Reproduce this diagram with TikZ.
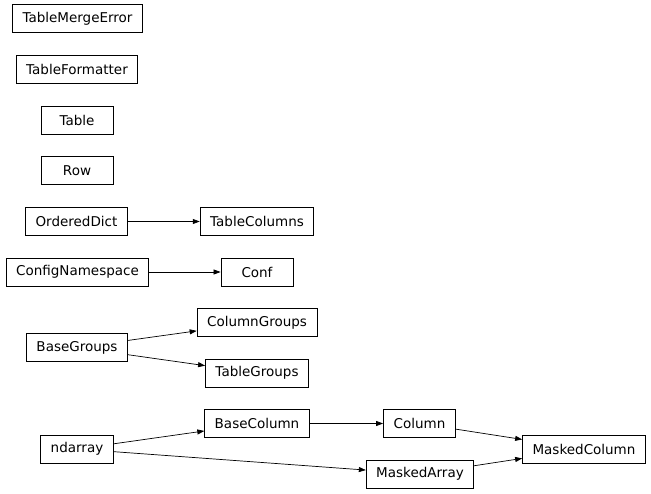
\documentclass[tikz,border=0pt]{standalone}
\usepackage{fontspec}
\setmainfont{DejaVu Sans}
\usetikzlibrary{arrows.meta}
\tikzset{>={Triangle[length=7pt,width=5pt]}}
\tikzset{cls/.style={draw, rectangle, line width=0.8pt, minimum height=28pt, minimum width=72pt, inner xsep=10pt, font=\fontsize{13.5}{15}\selectfont}}

\begin{document}
\begin{tikzpicture}[x=1pt, y=-1pt]
	\useasboundingbox (0,0) rectangle (651,493);
	\node[cls] (tmerr) at (77.5,18.5) {TableMergeError};
	\node[cls] (tfmt) at (77,69.5) {TableFormatter};
	\node[cls] (tbl) at (77,120) {Table};
	\node[cls] (row) at (77,170.5) {Row};
	\node[cls] (odict) at (76.5,221.5) {OrderedDict};
	\node[cls] (tcols) at (257,221.5) {TableColumns};
	\node[cls] (cfgns) at (77.5,272) {ConfigNamespace};
	\node[cls] (conf) at (257,272) {Conf};
	\node[cls] (bgrp) at (77,347.5) {BaseGroups};
	\node[cls] (cgrp) at (257,322.5) {ColumnGroups};
	\node[cls] (tgrp) at (257,373) {TableGroups};
	\node[cls] (ndarr) at (77,449) {ndarray};
	\node[cls] (bcol) at (257,423.5) {BaseColumn};
	\node[cls] (col) at (419.5,423.5) {Column};
	\node[cls] (marr) at (420,474) {MaskedArray};
	\node[cls] (mcol) at (584,449) {MaskedColumn};
	\draw [->, line width=0.7pt] (odict) -- (tcols);
	\draw [->, line width=0.7pt] (cfgns) -- (conf);
	\draw [->, line width=0.7pt] (bgrp) -- (cgrp);
	\draw [->, line width=0.7pt] (bgrp) -- (tgrp);
	\draw [->, line width=0.7pt] (ndarr) -- (bcol);
	\draw [->, line width=0.7pt] (ndarr) -- (marr);
	\draw [->, line width=0.7pt] (bcol) -- (col);
	\draw [->, line width=0.7pt] (col) -- (mcol);
	\draw [->, line width=0.7pt] (marr) -- (mcol);
\end{tikzpicture}
\end{document}
